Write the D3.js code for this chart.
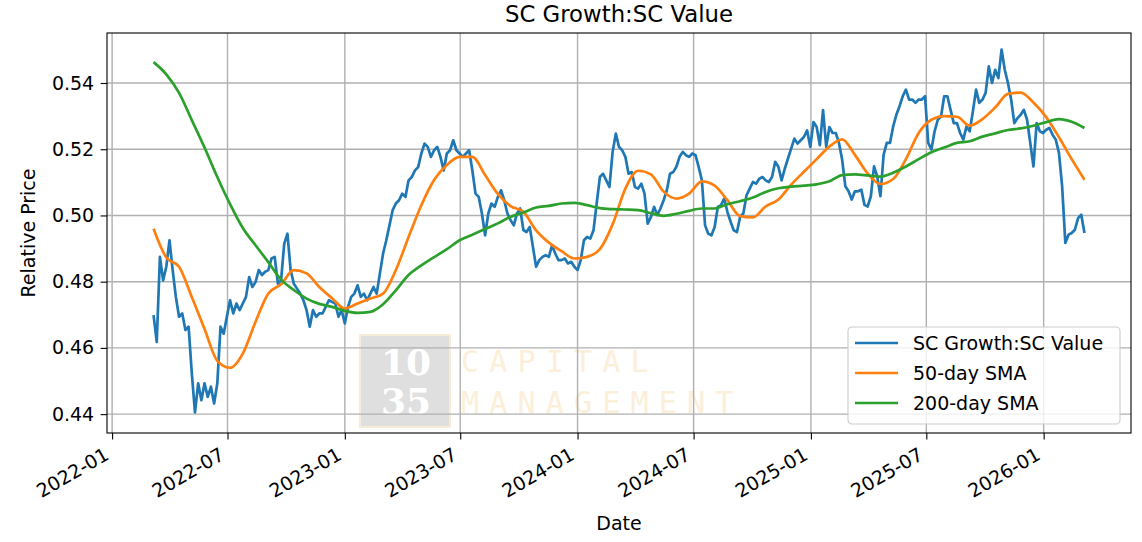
<html>

<head>
  <title>SC Growth:SC Value</title>
  <style>
    body {
      margin: 0;
      background: white;
      font-family: "DejaVu Sans", sans-serif;
    }

    svg {
      display: block;
    }
  </style>
</head>

<body>
  <svg id="chart"></svg>

  <script src="https://cdn.jsdelivr.net/npm/d3@7/dist/d3.min.js"></script>
  <script>
    // ---- data ----
    var seriesNames = ["SC Growth:SC Value", "50-day SMA", "200-day SMA"];

    // relative price, one reading every 5 calendar days from the first date
    var ratioStart = "2022-03-07";
    var ratioStepDays = 5;
    var ratio = [
      0.4699, 0.4618, 0.4875, 0.4804, 0.4845, 0.4925, 0.4835, 0.4754, 0.4694, 0.4704,
      0.4654, 0.4664, 0.4523, 0.4405, 0.4493, 0.4442, 0.4493, 0.4452, 0.4483, 0.4432,
      0.4493, 0.4664, 0.4643, 0.4694, 0.4744, 0.4704, 0.4734, 0.4714, 0.4734, 0.4754,
      0.4814, 0.4784, 0.4799, 0.4835, 0.4820, 0.4830, 0.4835, 0.4870, 0.4875, 0.4794,
      0.4804, 0.4915, 0.4945, 0.4835, 0.4794, 0.4779, 0.4764, 0.4744, 0.4714, 0.4664,
      0.4714, 0.4694, 0.4704, 0.4704, 0.4724, 0.4744, 0.4739, 0.4734, 0.4694, 0.4714,
      0.4674, 0.4724, 0.4754, 0.4764, 0.4789, 0.4754, 0.4764, 0.4744, 0.4764, 0.4784,
      0.4764, 0.4825, 0.4885, 0.4925, 0.4970, 0.5016, 0.5036, 0.5046, 0.5066, 0.5056,
      0.5106, 0.5116, 0.5136, 0.5146, 0.5187, 0.5217, 0.5207, 0.5177, 0.5197, 0.5207,
      0.5177, 0.5136, 0.5187, 0.5197, 0.5227, 0.5197, 0.5187, 0.5177, 0.5187, 0.5197,
      0.5136, 0.5066, 0.5056, 0.5006, 0.4940, 0.5006, 0.5036, 0.5026, 0.5056, 0.5076,
      0.5046, 0.5006, 0.4986, 0.4970, 0.5006, 0.5021, 0.4956, 0.4950, 0.4965, 0.4905,
      0.4845, 0.4865, 0.4875, 0.4880, 0.4875, 0.4910, 0.4885, 0.4865, 0.4865, 0.4870,
      0.4855, 0.4860, 0.4845, 0.4835, 0.4865, 0.4925, 0.4935, 0.4930, 0.4955, 0.5036,
      0.5116, 0.5126, 0.5106, 0.5086, 0.5192, 0.5247, 0.5207, 0.5197, 0.5177, 0.5126,
      0.5131, 0.5086, 0.5081, 0.5096, 0.5066, 0.4975, 0.4995, 0.5026, 0.5001, 0.5021,
      0.5046, 0.5076, 0.5126, 0.5131, 0.5147, 0.5177, 0.5192, 0.5182, 0.5177, 0.5187,
      0.5182, 0.5146, 0.5106, 0.4970, 0.4945, 0.4940, 0.4965, 0.5026, 0.5031, 0.5051,
      0.5011, 0.4981, 0.4955, 0.4950, 0.4996, 0.5006, 0.5061, 0.5081, 0.5101, 0.5096,
      0.5111, 0.5116, 0.5106, 0.5101, 0.5116, 0.5162, 0.5147, 0.5106, 0.5141, 0.5172,
      0.5202, 0.5232, 0.5217, 0.5227, 0.5237, 0.5257, 0.5207, 0.5282, 0.5267, 0.5212,
      0.5318, 0.5207, 0.5267, 0.5249, 0.5249, 0.5219, 0.5168, 0.5088, 0.5073, 0.5048,
      0.5073, 0.5073, 0.5078, 0.5032, 0.5027, 0.5058, 0.5148, 0.5118, 0.5058, 0.5183,
      0.5219, 0.5219, 0.5269, 0.5304, 0.5330, 0.5360, 0.5380, 0.5350, 0.5350, 0.5340,
      0.5350, 0.5350, 0.5360, 0.5219, 0.5199, 0.5254, 0.5289, 0.5299, 0.5360, 0.5360,
      0.5319, 0.5279, 0.5279, 0.5249, 0.5229, 0.5269, 0.5254, 0.5314, 0.5380, 0.5340,
      0.5350, 0.5370, 0.5450, 0.5400, 0.5440, 0.5415, 0.5501, 0.5440, 0.5400, 0.5350,
      0.5279, 0.5294, 0.5304, 0.5319, 0.5289, 0.5219, 0.5148, 0.5279, 0.5254, 0.5249,
      0.5259, 0.5264, 0.5244, 0.5229, 0.5189, 0.5088, 0.4917, 0.4942, 0.4947, 0.4957,
      0.4992, 0.5002, 0.4947
    ];

    // moving averages, one reading every 20 days from the same first date
    var smaStepDays = 20;
    var sma50 = [
      0.4960, 0.4873, 0.4845, 0.4754, 0.4657, 0.4561, 0.4540, 0.4583, 0.4679, 0.4764,
      0.4792, 0.4835, 0.4825, 0.4784, 0.4750, 0.4719, 0.4734, 0.4749, 0.4764, 0.4835,
      0.4935, 0.5031, 0.5107, 0.5152, 0.5177, 0.5177, 0.5122, 0.5065, 0.5028, 0.5011,
      0.4955, 0.4918, 0.4892, 0.4870, 0.4875, 0.4898, 0.4973, 0.5081, 0.5135, 0.5124,
      0.5072, 0.5051, 0.5066, 0.5103, 0.5090, 0.5046, 0.4998, 0.4994, 0.5027, 0.5048,
      0.5093, 0.5132, 0.5170, 0.5208, 0.5230, 0.5183, 0.5127, 0.5095, 0.5110, 0.5170,
      0.5249, 0.5289, 0.5300, 0.5298, 0.5271, 0.5291, 0.5326, 0.5367, 0.5371, 0.5341,
      0.5297, 0.5236, 0.5170, 0.5108
    ];
    var sma200 = [
      0.5463, 0.5426, 0.5370, 0.5288, 0.5205, 0.5116, 0.5034, 0.4962, 0.4910, 0.4859,
      0.4806, 0.4775, 0.4749, 0.4733, 0.4724, 0.4712, 0.4706, 0.4709, 0.4732, 0.4774,
      0.4820, 0.4849, 0.4874, 0.4898, 0.4925, 0.4942, 0.4959, 0.4976, 0.4996, 0.5009,
      0.5024, 0.5029, 0.5036, 0.5038, 0.5031, 0.5022, 0.5019, 0.5018, 0.5016, 0.5007,
      0.4999, 0.5005, 0.5014, 0.5021, 0.5021, 0.5034, 0.5043, 0.5054, 0.5071, 0.5082,
      0.5087, 0.5090, 0.5094, 0.5103, 0.5122, 0.5124, 0.5121, 0.5117, 0.5129, 0.5148,
      0.5170, 0.5191, 0.5205, 0.5219, 0.5224, 0.5238, 0.5248, 0.5258, 0.5263, 0.5271,
      0.5282, 0.5291, 0.5283, 0.5264
    ];

    var yTicks = [0.44, 0.46, 0.48, 0.50, 0.52, 0.54];
    var yLimits = [0.4343, 0.5551];

    // ---- layout / style ----
    var width = 1142, height = 542;
    var plot = { left: 107, right: 1131, top: 33, bottom: 433 };
    var colors = ["#1f77b4", "#ff7f0e", "#2ca02c"];
    var font = "DejaVu Sans, sans-serif";
    var tickFont = 19;

    var svg = d3.select("#chart")
      .attr("width", width)
      .attr("height", height);

    var start = d3.timeParse("%Y-%m-%d")(ratioStart);
    function toPoints(values, step) {
      return values.map(function (v, i) {
        return { date: d3.timeDay.offset(start, i * step), value: v };
      });
    }
    var series = [
      toPoints(ratio, ratioStepDays),
      toPoints(sma50, smaStepDays),
      toPoints(sma200, smaStepDays)
    ];

    // matplotlib style 5% margin on the date range
    var end = series[0][series[0].length - 1].date;
    var pad = Math.round(d3.timeDay.count(start, end) * 0.05);
    var x = d3.scaleTime()
      .domain([d3.timeDay.offset(start, -pad), d3.timeDay.offset(end, pad)])
      .range([plot.left, plot.right]);
    var y = d3.scaleLinear()
      .domain(yLimits)
      .range([plot.bottom, plot.top]);

    var xTickDates = x.ticks(d3.timeMonth.every(6));

    // watermark (sits under the grid)
    var mark = svg.append("g").attr("id", "watermark");
    mark.append("rect")
      .attr("x", 360).attr("y", 335)
      .attr("width", 90).attr("height", 92)
      .attr("fill", "#dfdfdf")
      .attr("stroke", "#f7ecd8")
      .attr("stroke-width", 2);
    mark.selectAll("text.num")
      .data(["10", "35"])
      .join("text")
      .attr("class", "num")
      .attr("x", 406)
      .attr("y", function (d, i) { return 375 + i * 39; })
      .attr("text-anchor", "middle")
      .attr("font-family", "DejaVu Serif, serif")
      .attr("font-weight", "bold")
      .attr("font-size", 36)
      .attr("fill", "white")
      .text(function (d) { return d; });
    mark.selectAll("text.word")
      .data(["CAPITAL", "MANAGEMENT"])
      .join("text")
      .attr("class", "word")
      .attr("x", 461)
      .attr("y", function (d, i) { return 372 + i * 41; })
      .attr("font-family", "DejaVu Sans Mono, monospace")
      .attr("font-size", 30)
      .attr("letter-spacing", 10.2)
      .attr("fill", "#fcefd9")
      .text(function (d) { return d; });

    // grid
    var grid = svg.append("g")
      .attr("stroke", "#b0b0b0")
      .attr("stroke-width", 1.4);
    grid.selectAll("line.v")
      .data(xTickDates)
      .join("line")
      .attr("class", "v")
      .attr("x1", function (d) { return x(d); })
      .attr("x2", function (d) { return x(d); })
      .attr("y1", plot.top)
      .attr("y2", plot.bottom);
    grid.selectAll("line.h")
      .data(yTicks)
      .join("line")
      .attr("class", "h")
      .attr("x1", plot.left)
      .attr("x2", plot.right)
      .attr("y1", function (d) { return y(d); })
      .attr("y2", function (d) { return y(d); });

    // the three lines: raw ratio straight, the averages smoothed between readings
    var rawLine = d3.line()
      .x(function (d) { return x(d.date); })
      .y(function (d) { return y(d.value); });
    var smoothLine = d3.line()
      .curve(d3.curveMonotoneX)
      .x(function (d) { return x(d.date); })
      .y(function (d) { return y(d.value); });
    svg.append("g")
      .selectAll("path")
      .data(series)
      .join("path")
      .attr("d", function (d, i) { return i == 0 ? rawLine(d) : smoothLine(d); })
      .attr("fill", "none")
      .attr("stroke", function (d, i) { return colors[i]; })
      .attr("stroke-width", 2.7)
      .attr("stroke-linejoin", "round");

    // axes
    var xAxis = d3.axisBottom(x)
      .tickValues(xTickDates)
      .tickFormat(d3.timeFormat("%Y-%m"))
      .tickSize(6.4);
    var gx = svg.append("g")
      .attr("transform", "translate(0," + plot.bottom + ")")
      .call(xAxis)
      .attr("font-family", font)
      .attr("font-size", tickFont);
    gx.select(".domain").remove();
    gx.selectAll(".tick line").attr("stroke", "#000").attr("stroke-width", 1.1);
    gx.selectAll(".tick text")
      .attr("fill", "#000")
      .attr("y", 0)
      .attr("dy", null)
      .attr("text-anchor", "end")
      .attr("transform", "translate(-2.3,25.5) rotate(-30)");

    var yAxis = d3.axisLeft(y)
      .tickValues(yTicks)
      .tickFormat(d3.format(".2f"))
      .tickSize(6.4)
      .tickPadding(6.4);
    var gy = svg.append("g")
      .attr("transform", "translate(" + plot.left + ",0)")
      .call(yAxis)
      .attr("font-family", font)
      .attr("font-size", tickFont);
    gy.select(".domain").remove();
    gy.selectAll(".tick line").attr("stroke", "#000").attr("stroke-width", 1.1);
    gy.selectAll(".tick text").attr("fill", "#000");

    // spines
    svg.append("rect")
      .attr("x", plot.left).attr("y", plot.top)
      .attr("width", plot.right - plot.left)
      .attr("height", plot.bottom - plot.top)
      .attr("fill", "none")
      .attr("stroke", "#000")
      .attr("stroke-width", 1.1);

    // titles
    svg.append("text")
      .attr("x", (plot.left + plot.right) / 2)
      .attr("y", 22)
      .attr("text-anchor", "middle")
      .attr("font-family", font)
      .attr("font-size", 22.8)
      .text("SC Growth:SC Value");
    svg.append("text")
      .attr("x", (plot.left + plot.right) / 2)
      .attr("y", 530)
      .attr("text-anchor", "middle")
      .attr("font-family", font)
      .attr("font-size", tickFont)
      .text("Date");
    svg.append("text")
      .attr("transform", "translate(35," + (plot.top + plot.bottom) / 2 + ") rotate(-90)")
      .attr("text-anchor", "middle")
      .attr("font-family", font)
      .attr("font-size", tickFont)
      .text("Relative Price");

    // legend, lower right
    var legend = svg.append("g")
      .attr("transform", "translate(848,327)");
    legend.append("rect")
      .attr("width", 272)
      .attr("height", 97)
      .attr("rx", 4)
      .attr("fill", "white")
      .attr("fill-opacity", 0.8)
      .attr("stroke", "#cccccc")
      .attr("stroke-width", 1.1);
    var items = legend.selectAll("g.item")
      .data(seriesNames)
      .join("g")
      .attr("class", "item")
      .attr("transform", function (d, i) { return "translate(0," + (16 + i * 30) + ")"; });
    items.append("line")
      .attr("x1", 7).attr("x2", 50)
      .attr("stroke", function (d, i) { return colors[i]; })
      .attr("stroke-width", 2.7);
    items.append("text")
      .attr("x", 65)
      .attr("dy", "0.36em")
      .attr("font-family", font)
      .attr("font-size", tickFont)
      .text(function (d) { return d; });
  </script>
</body>

</html>
